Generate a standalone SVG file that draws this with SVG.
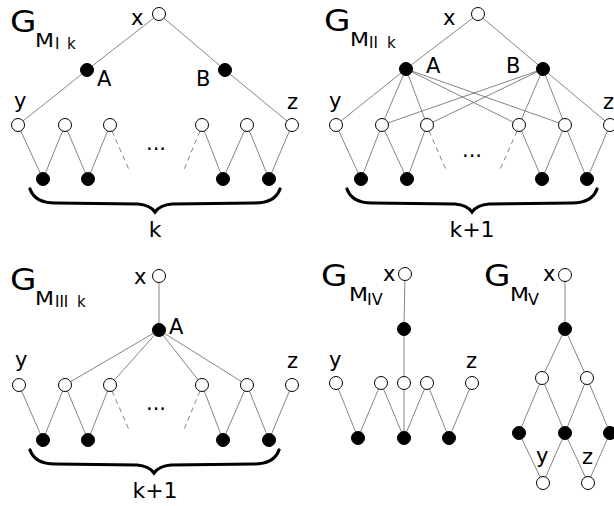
<svg xmlns="http://www.w3.org/2000/svg" width="614" height="506" viewBox="0 0 614 506">
<style>
.e{stroke:#666;stroke-width:0.8;fill:none}
.d{stroke:#666;stroke-width:0.8;fill:none;stroke-dasharray:5,4}
.o{fill:#fff;stroke:#000;stroke-width:1}
.f{fill:#000;stroke:#000;stroke-width:1}
.br{fill:none;stroke:#000;stroke-width:3.2;stroke-linecap:round;stroke-linejoin:miter}
text{font-family:"DejaVu Sans","Liberation Sans",sans-serif;fill:#000}
.lb{font-size:21px}
.g{font-size:31px}
.m{font-size:20px}
.s{font-size:15px}
.s2{font-size:16px}
.kk{font-size:22px;text-anchor:middle}
</style>
<rect width="614" height="506" fill="#fff"/>

<g id="connectors">
<!-- panel 1 -->
<line class="e" x1="159" y1="14" x2="87" y2="70"/>
<line class="e" x1="159" y1="14" x2="225" y2="70"/>
<line class="e" x1="87" y1="70" x2="18" y2="125"/>
<line class="e" x1="225" y1="70" x2="292" y2="125"/>
<line class="e" x1="18" y1="125" x2="43" y2="179"/>
<line class="e" x1="65" y1="125" x2="43" y2="179"/>
<line class="e" x1="65" y1="125" x2="88" y2="179"/>
<line class="e" x1="110" y1="125" x2="88" y2="179"/>
<line class="d" x1="112" y1="131" x2="130" y2="172"/>
<line class="d" x1="200" y1="131" x2="183" y2="172"/>
<line class="e" x1="202" y1="125" x2="223" y2="179"/>
<line class="e" x1="247" y1="125" x2="223" y2="179"/>
<line class="e" x1="247" y1="125" x2="269" y2="179"/>
<line class="e" x1="292" y1="125" x2="269" y2="179"/>
<!-- panel 2 -->
<line class="e" x1="478" y1="14" x2="406" y2="69"/>
<line class="e" x1="478" y1="14" x2="543" y2="69"/>
<line class="e" x1="406" y1="69" x2="336" y2="125"/>
<line class="e" x1="406" y1="69" x2="382" y2="125"/>
<line class="e" x1="406" y1="69" x2="427" y2="125"/>
<line class="e" x1="406" y1="69" x2="519" y2="125"/>
<line class="e" x1="406" y1="69" x2="565" y2="125"/>
<line class="e" x1="543" y1="69" x2="382" y2="125"/>
<line class="e" x1="543" y1="69" x2="427" y2="125"/>
<line class="e" x1="543" y1="69" x2="519" y2="125"/>
<line class="e" x1="543" y1="69" x2="565" y2="125"/>
<line class="e" x1="543" y1="69" x2="610" y2="125"/>
<line class="e" x1="336" y1="125" x2="361" y2="179"/>
<line class="e" x1="382" y1="125" x2="361" y2="179"/>
<line class="e" x1="382" y1="125" x2="407" y2="179"/>
<line class="e" x1="427" y1="125" x2="407" y2="179"/>
<line class="d" x1="429" y1="131" x2="447" y2="172"/>
<line class="d" x1="517" y1="131" x2="499" y2="172"/>
<line class="e" x1="519" y1="125" x2="542" y2="179"/>
<line class="e" x1="565" y1="125" x2="542" y2="179"/>
<line class="e" x1="565" y1="125" x2="587" y2="179"/>
<line class="e" x1="610" y1="125" x2="587" y2="179"/>
<!-- panel 3 -->
<line class="e" x1="159" y1="276" x2="159" y2="330"/>
<line class="e" x1="159" y1="330" x2="65" y2="385"/>
<line class="e" x1="159" y1="330" x2="110" y2="385"/>
<line class="e" x1="159" y1="330" x2="202" y2="385"/>
<line class="e" x1="159" y1="330" x2="247" y2="385"/>
<line class="e" x1="19" y1="385" x2="43" y2="440"/>
<line class="e" x1="65" y1="385" x2="43" y2="440"/>
<line class="e" x1="65" y1="385" x2="88" y2="440"/>
<line class="e" x1="110" y1="385" x2="88" y2="440"/>
<line class="d" x1="112" y1="391" x2="130" y2="432"/>
<line class="d" x1="200" y1="391" x2="183" y2="432"/>
<line class="e" x1="202" y1="385" x2="223" y2="440"/>
<line class="e" x1="247" y1="385" x2="223" y2="440"/>
<line class="e" x1="247" y1="385" x2="269" y2="440"/>
<line class="e" x1="292" y1="385" x2="269" y2="440"/>
<!-- panel 4 -->
<line class="e" x1="405" y1="274" x2="404" y2="329"/>
<line class="e" x1="404" y1="329" x2="404" y2="383"/>
<line class="e" x1="404" y1="383" x2="404" y2="438"/>
<line class="e" x1="336" y1="383" x2="358" y2="438"/>
<line class="e" x1="381" y1="383" x2="358" y2="438"/>
<line class="e" x1="381" y1="383" x2="404" y2="438"/>
<line class="e" x1="427" y1="383" x2="404" y2="438"/>
<line class="e" x1="427" y1="383" x2="449" y2="438"/>
<line class="e" x1="472" y1="383" x2="449" y2="438"/>
<!-- panel 5 -->
<line class="e" x1="565" y1="275" x2="565" y2="329"/>
<line class="e" x1="565" y1="329" x2="542" y2="378"/>
<line class="e" x1="565" y1="329" x2="587" y2="378"/>
<line class="e" x1="542" y1="378" x2="519" y2="433"/>
<line class="e" x1="542" y1="378" x2="565" y2="433"/>
<line class="e" x1="587" y1="378" x2="565" y2="433"/>
<line class="e" x1="587" y1="378" x2="610" y2="433"/>
<line class="e" x1="519" y1="433" x2="543" y2="483"/>
<line class="e" x1="565" y1="433" x2="543" y2="483"/>
<line class="e" x1="565" y1="433" x2="588" y2="483"/>
<line class="e" x1="610" y1="433" x2="588" y2="483"/>
</g>

<!-- Panel 1 -->
<g id="p1-title"><text class="g" transform="translate(10,32) scale(1.1,1)">G</text><text class="m" transform="translate(35,47) scale(1.1,1)">M</text><text class="s" x="55" y="49">I <tspan x="67">k</tspan></text></g>
<g id="p1-x"><circle class="o" cx="159" cy="14" r="6.5"/><text class="lb" x="131" y="25">x</text></g>
<g id="p1-A"><circle class="f" cx="87" cy="70" r="6.5"/><text class="lb" x="97" y="86">A</text></g>
<g id="p1-B"><circle class="f" cx="225" cy="70" r="6.5"/><text class="lb" x="196" y="86">B</text></g>
<g id="p1-y"><circle class="o" cx="18" cy="125" r="6.5"/><text class="lb" x="14" y="108">y</text></g>
<g id="p1-o2"><circle class="o" cx="65" cy="125" r="6.5"/></g>
<g id="p1-o3"><circle class="o" cx="110" cy="125" r="6.5"/></g>
<g id="p1-o4"><circle class="o" cx="202" cy="125" r="6.5"/></g>
<g id="p1-o5"><circle class="o" cx="247" cy="125" r="6.5"/></g>
<g id="p1-z"><circle class="o" cx="292" cy="125" r="6.5"/><text class="lb" x="287" y="109">z</text></g>
<g id="p1-f1"><circle class="f" cx="43" cy="179" r="6.5"/></g>
<g id="p1-f2"><circle class="f" cx="88" cy="179" r="6.5"/></g>
<g id="p1-f3"><circle class="f" cx="223" cy="179" r="6.5"/></g>
<g id="p1-f4"><circle class="f" cx="269" cy="179" r="6.5"/></g>
<g id="p1-dots"><text class="lb" x="146" y="150">...</text></g>
<g id="p1-brace"><path class="br" d="M30,189 Q35,203 55,203 L138,204 Q150,205 155,212 Q160,205 172,204 L255,203 Q275,203 280,189"/><text class="kk" x="155" y="237">k</text></g>

<!-- Panel 2 -->
<g id="p2-title"><text class="g" transform="translate(324,31) scale(1.1,1)">G</text><text class="m" transform="translate(350,46) scale(1.1,1)">M</text><text class="s" x="369" y="48">II <tspan x="387">k</tspan></text></g>
<g id="p2-x"><circle class="o" cx="478" cy="14" r="6.5"/><text class="lb" x="443" y="25">x</text></g>
<g id="p2-A"><circle class="f" cx="406" cy="69" r="6.5"/><text class="lb" x="426" y="73">A</text></g>
<g id="p2-B"><circle class="f" cx="543" cy="69" r="6.5"/><text class="lb" x="506" y="73">B</text></g>
<g id="p2-y"><circle class="o" cx="336" cy="125" r="6.5"/><text class="lb" x="329" y="108">y</text></g>
<g id="p2-o2"><circle class="o" cx="382" cy="125" r="6.5"/></g>
<g id="p2-o3"><circle class="o" cx="427" cy="125" r="6.5"/></g>
<g id="p2-o4"><circle class="o" cx="519" cy="125" r="6.5"/></g>
<g id="p2-o5"><circle class="o" cx="565" cy="125" r="6.5"/></g>
<g id="p2-z"><circle class="o" cx="610" cy="125" r="6.5"/><text class="lb" x="603" y="109">z</text></g>
<g id="p2-f1"><circle class="f" cx="361" cy="179" r="6.5"/></g>
<g id="p2-f2"><circle class="f" cx="407" cy="179" r="6.5"/></g>
<g id="p2-f3"><circle class="f" cx="542" cy="179" r="6.5"/></g>
<g id="p2-f4"><circle class="f" cx="587" cy="179" r="6.5"/></g>
<g id="p2-dots"><text class="lb" x="462" y="157">...</text></g>
<g id="p2-brace"><path class="br" d="M347,189 Q352,203 372,203 L455,204 Q467,205 472,212 Q477,205 489,204 L572,203 Q592,203 597,189"/><text class="kk" x="472" y="237">k+1</text></g>

<!-- Panel 3 -->
<g id="p3-title"><text class="g" transform="translate(10,290) scale(1.1,1)">G</text><text class="m" transform="translate(35,305) scale(1.1,1)">M</text><text class="s" x="55" y="307">III <tspan x="77">k</tspan></text></g>
<g id="p3-x"><circle class="o" cx="159" cy="276" r="6.5"/><text class="lb" x="134" y="284">x</text></g>
<g id="p3-A"><circle class="f" cx="159" cy="330" r="6.5"/><text class="lb" x="169" y="334">A</text></g>
<g id="p3-y"><circle class="o" cx="19" cy="385" r="6.5"/><text class="lb" x="15" y="367">y</text></g>
<g id="p3-o2"><circle class="o" cx="65" cy="385" r="6.5"/></g>
<g id="p3-o3"><circle class="o" cx="110" cy="385" r="6.5"/></g>
<g id="p3-o4"><circle class="o" cx="202" cy="385" r="6.5"/></g>
<g id="p3-o5"><circle class="o" cx="247" cy="385" r="6.5"/></g>
<g id="p3-z"><circle class="o" cx="292" cy="385" r="6.5"/><text class="lb" x="287" y="368">z</text></g>
<g id="p3-f1"><circle class="f" cx="43" cy="440" r="6.5"/></g>
<g id="p3-f2"><circle class="f" cx="88" cy="440" r="6.5"/></g>
<g id="p3-f3"><circle class="f" cx="223" cy="440" r="6.5"/></g>
<g id="p3-f4"><circle class="f" cx="269" cy="440" r="6.5"/></g>
<g id="p3-dots"><text class="lb" x="146" y="410">...</text></g>
<g id="p3-brace"><path class="br" d="M30,450 Q35,464 55,464 L137,465 Q149,466 154,473 Q159,466 171,465 L254,464 Q274,464 279,450"/><text class="kk" x="155" y="498">k+1</text></g>

<!-- Panel 4 -->
<g id="p4-title"><text class="g" transform="translate(321,286) scale(1.1,1)">G</text><text class="m" transform="translate(349,301) scale(1.1,1)">M</text><text class="s2" x="367" y="305">IV</text></g>
<g id="p4-x"><circle class="o" cx="405" cy="274" r="6.5"/><text class="lb" x="383" y="281">x</text></g>
<g id="p4-F"><circle class="f" cx="404" cy="329" r="6.5"/></g>
<g id="p4-y"><circle class="o" cx="336" cy="383" r="6.5"/><text class="lb" x="329" y="367">y</text></g>
<g id="p4-o2"><circle class="o" cx="381" cy="383" r="6.5"/></g>
<g id="p4-o3"><circle class="o" cx="404" cy="383" r="6.5"/></g>
<g id="p4-o4"><circle class="o" cx="427" cy="383" r="6.5"/></g>
<g id="p4-z"><circle class="o" cx="472" cy="383" r="6.5"/><text class="lb" x="466" y="368">z</text></g>
<g id="p4-f1"><circle class="f" cx="358" cy="438" r="6.5"/></g>
<g id="p4-f2"><circle class="f" cx="404" cy="438" r="6.5"/></g>
<g id="p4-f3"><circle class="f" cx="449" cy="438" r="6.5"/></g>

<!-- Panel 5 -->
<g id="p5-title"><text class="g" transform="translate(484,286) scale(1.1,1)">G</text><text class="m" transform="translate(510,301) scale(1.1,1)">M</text><text class="s2" x="528" y="305">V</text></g>
<g id="p5-x"><circle class="o" cx="565" cy="275" r="6.5"/><text class="lb" x="543" y="281">x</text></g>
<g id="p5-F"><circle class="f" cx="565" cy="329" r="6.5"/></g>
<g id="p5-o1"><circle class="o" cx="542" cy="378" r="6.5"/></g>
<g id="p5-o2"><circle class="o" cx="587" cy="378" r="6.5"/></g>
<g id="p5-f1"><circle class="f" cx="519" cy="433" r="6.5"/></g>
<g id="p5-f2"><circle class="f" cx="565" cy="433" r="6.5"/></g>
<g id="p5-f3"><circle class="f" cx="610" cy="433" r="6.5"/></g>
<g id="p5-y"><circle class="o" cx="543" cy="483" r="6.5"/><text class="lb" x="536" y="463">y</text></g>
<g id="p5-z"><circle class="o" cx="588" cy="483" r="6.5"/><text class="lb" x="582" y="464">z</text></g>
</svg>
